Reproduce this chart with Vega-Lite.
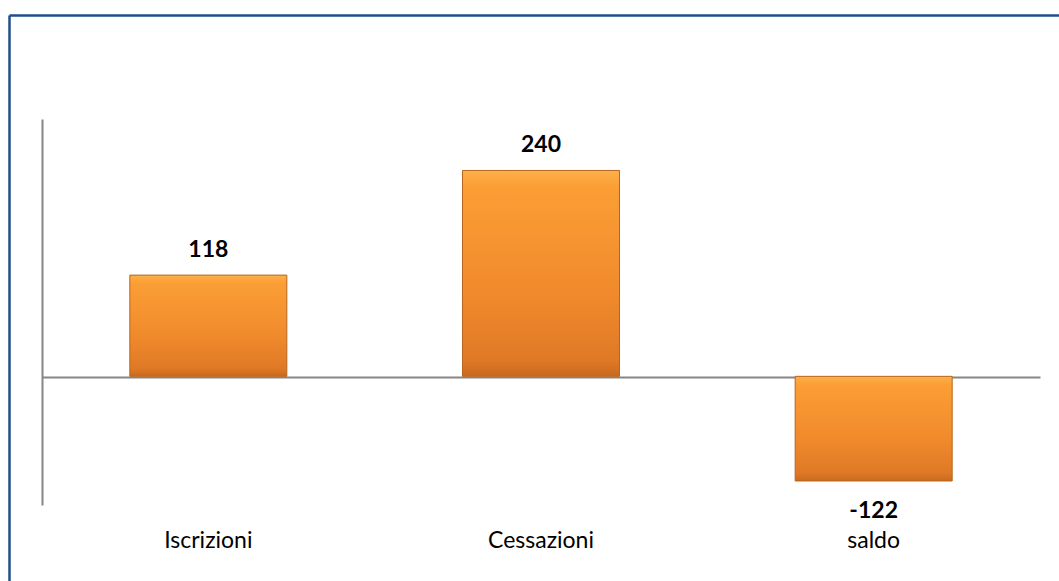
{
  "$schema": "https://vega.github.io/schema/vega-lite/v6.json",
  "autosize": "none",
  "padding": {"left": 9, "top": 15, "right": 0, "bottom": 0},
  "width": 1050,
  "height": 566,
  "background": "white",
  "config": {
    "view": {"stroke": null},
    "font": "Lato"
  },
  "data": {
    "values": [
      {"categoria": "Iscrizioni", "valore": 118},
      {"categoria": "Cessazioni", "valore": 240},
      {"categoria": "saldo", "valore": -122}
    ]
  },
  "resolve": {
    "scale": {"x": "independent", "y": "independent"},
    "axis": {"x": "independent", "y": "independent"}
  },
  "layer": [
    {
      "encoding": {
        "x": {
          "field": "categoria",
          "type": "nominal",
          "sort": null,
          "scale": {"range": [33, 1031], "paddingInner": 0.528, "paddingOuter": 0.264},
          "axis": {
            "title": null,
            "orient": "bottom",
            "offset": -204,
            "domainColor": "#868686",
            "domainWidth": 2,
            "ticks": false,
            "labelPadding": 152,
            "labelFontSize": 23,
            "labelColor": "#000000",
            "labelFont": "Lato",
            "labelAngle": 0
          }
        },
        "y": {
          "field": "valore",
          "type": "quantitative",
          "scale": {"domain": [-150, 300], "range": [490, 104], "nice": false, "zero": false},
          "axis": {
            "title": null,
            "offset": -33,
            "domainColor": "#868686",
            "domainWidth": 2,
            "ticks": false,
            "labels": false,
            "grid": false
          }
        }
      },
      "layer": [
        {
          "mark": {
            "type": "bar",
            "stroke": "#B8651C",
            "strokeWidth": 1,
            "color": {
              "gradient": "linear",
              "x1": 0, "y1": 0, "x2": 0, "y2": 1,
              "stops": [
                {"offset": 0, "color": "#FDB04A"},
                {"offset": 0.08, "color": "#FB9E35"},
                {"offset": 0.6, "color": "#F08A2C"},
                {"offset": 0.92, "color": "#E07926"},
                {"offset": 1, "color": "#C96A1E"}
              ]
            }
          },
          "encoding": {"y2": {"datum": 0}}
        },
        {
          "transform": [{"filter": "datum.valore >= 0"}],
          "mark": {"type": "text", "baseline": "middle", "dy": -25, "fontSize": 23, "fontWeight": "bold", "color": "#000000"},
          "encoding": {"text": {"field": "valore", "type": "nominal"}}
        },
        {
          "transform": [{"filter": "datum.valore < 0"}],
          "mark": {"type": "text", "baseline": "middle", "dy": 30, "fontSize": 23, "fontWeight": "bold", "color": "#000000"},
          "encoding": {"text": {"field": "valore", "type": "nominal"}}
        }
      ]
    },
    {
      "mark": {"type": "point", "opacity": 0},
      "encoding": {
        "x": {
          "field": "categoria",
          "type": "nominal",
          "sort": null,
          "axis": {"title": null, "orient": "top", "domainColor": "#1F4E89", "domainWidth": 2.5, "ticks": false, "labels": false, "grid": false}
        },
        "y": {
          "field": "valore",
          "type": "quantitative",
          "axis": {"title": null, "orient": "left", "domainColor": "#1F4E89", "domainWidth": 2.5, "ticks": false, "labels": false, "grid": false}
        }
      }
    }
  ]
}
